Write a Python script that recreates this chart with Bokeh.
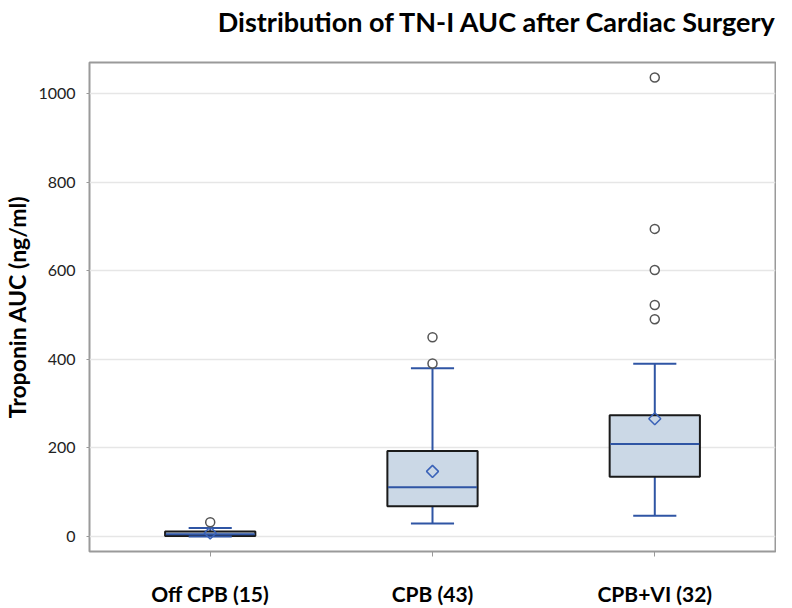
from bokeh.plotting import figure
from bokeh.models import ColumnDataSource, FactorRange, Range1d, FixedTicker, Label
from bokeh.transform import dodge
from bokeh.embed import file_html
from bokeh.resources import INLINE

# ---- data ----
categories = ["Off CPB (15)", "CPB (43)", "CPB+VI (32)"]
lower_whisker = [0, 29, 47]
q1 = [1, 68, 135]
median = [5, 111, 209]
q3 = [11, 193, 274]
upper_whisker = [19, 380, 390]
means = [8, 147, 266]
outlier_groups = ["Off CPB (15)", "CPB (43)", "CPB (43)",
                  "CPB+VI (32)", "CPB+VI (32)", "CPB+VI (32)", "CPB+VI (32)", "CPB+VI (32)"]
outlier_values = [32, 391, 450, 491, 523, 602, 695, 1037]
y_ticks = [0, 200, 400, 600, 800, 1000]
title_text = "Distribution of TN-I AUC after Cardiac Surgery"

BLUE = "#2f55a4"
FONT = "Lato"

p = figure(
    x_range=FactorRange(*categories, range_padding=0.0287, range_padding_units="percent"),
    y_range=Range1d(-34, 1071),
    width=776, height=608,
    output_backend="svg", toolbar_location=None,
    min_border_left=83, min_border_right=1, min_border_top=62, min_border_bottom=57,
)

src = ColumnDataSource(dict(cat=categories, lower=lower_whisker, q1=q1, med=median,
                            q3=q3, upper=upper_whisker, mean=means))

# whisker stems
p.segment(x0="cat", y0="q3", x1="cat", y1="upper", source=src, line_color=BLUE, line_width=2)
p.segment(x0="cat", y0="lower", x1="cat", y1="q1", source=src, line_color=BLUE, line_width=2)
# boxes
p.vbar(x="cat", width=0.406, bottom="q1", top="q3", source=src,
       fill_color="#cbd8e6", line_color="#1a1a1a", line_width=2)
# medians
p.segment(x0=dodge("cat", -0.2, range=p.x_range), x1=dodge("cat", 0.2, range=p.x_range),
          y0="med", y1="med", source=src, line_color=BLUE, line_width=2)
# caps
p.segment(x0=dodge("cat", -0.097, range=p.x_range), x1=dodge("cat", 0.097, range=p.x_range),
          y0="upper", y1="upper", source=src, line_color=BLUE, line_width=2)
p.segment(x0=dodge("cat", -0.097, range=p.x_range), x1=dodge("cat", 0.097, range=p.x_range),
          y0="lower", y1="lower", source=src, line_color=BLUE, line_width=2)
# means
p.scatter(x="cat", y="mean", source=src, marker="square", size=8.5, angle=45, angle_units="deg",
          fill_alpha=0, line_color="#3a62b8", line_width=1.5)
# outliers
p.scatter(x=outlier_groups, y=outlier_values, marker="circle", size=9,
          fill_color="white", line_color="#555555", line_width=1.5)

# ---- title as a label in the top side panel ----
title = Label(x=688, y=41, x_units="screen", y_units="screen", text=title_text,
              text_align="right", text_baseline="alphabetic",
              text_font=FONT, text_font_size="27px", text_font_style="bold",
              text_color="#000000")
p.add_layout(title, "above")

# ---- styling ----
p.outline_line_color = "#9a9a9a"
p.outline_line_width = 2
p.background_fill_color = "white"
p.border_fill_color = "white"

p.xgrid.grid_line_color = None
p.ygrid.grid_line_color = "#e6e6e6"
p.ygrid.grid_line_width = 1.5

p.yaxis.ticker = FixedTicker(ticks=y_ticks)
p.yaxis.axis_line_color = None
p.yaxis.major_tick_line_color = "#999999"
p.yaxis.major_tick_out = 3
p.yaxis.major_tick_in = 0
p.yaxis.minor_tick_line_color = None
p.yaxis.major_label_text_font = FONT
p.yaxis.major_label_text_font_size = "16px"
p.yaxis.major_label_text_color = "#222222"
p.yaxis.major_label_standoff = 11
p.yaxis.axis_label = "Troponin AUC (ng/ml)"
p.yaxis.axis_label_text_font = FONT
p.yaxis.axis_label_text_font_size = "23px"
p.yaxis.axis_label_text_font_style = "bold"
p.yaxis.axis_label_text_color = "#000000"
p.yaxis.axis_label_standoff = 4

p.xaxis.axis_line_color = None
p.xaxis.major_tick_line_color = "#999999"
p.xaxis.major_tick_out = 5
p.xaxis.major_tick_in = 0
p.xaxis.minor_tick_line_color = None
p.xaxis.major_label_text_font = FONT
p.xaxis.major_label_text_font_size = "21px"
p.xaxis.major_label_text_font_style = "bold"
p.xaxis.major_label_text_color = "#000000"
p.xaxis.major_label_standoff = 24

open("out.html", "w").write(file_html(p, INLINE))
